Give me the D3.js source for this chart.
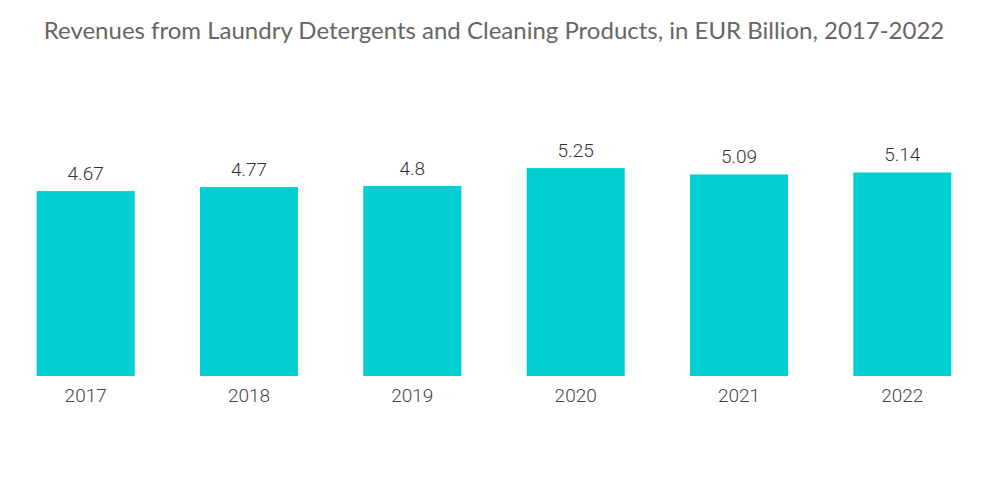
<!DOCTYPE html>
<html>
<head>
<meta charset="utf-8">
<script src="https://cdn.jsdelivr.net/npm/d3@7"></script>
<style>
  body { margin: 0; background: #fff; }
</style>
</head>
<body>
<svg id="chart"></svg>
<script>
const years = ['2017', '2018', '2019', '2020', '2021', '2022'];
const revenues = [4.67, 4.77, 4.8, 5.25, 5.09, 5.14];
const valueLabels = ['4.67', '4.77', '4.8', '5.25', '5.09', '5.14'];
const title = 'Revenues from Laundry Detergents and Cleaning Products, in EUR Billion, 2017-2022';

const width = 1000, height = 504;
const svg = d3.select('#chart').attr('width', width).attr('height', height);

const x = d3.scaleBand()
  .domain(years)
  .range([4, 984])
  .paddingInner(0.4)
  .paddingOuter(0.2);

const y = d3.scaleLinear()
  .domain([0, 6])
  .range([376, 138.4]);

svg.append('text')
  .attr('x', 494)
  .attr('y', 39)
  .attr('text-anchor', 'middle')
  .style('font-family', 'Lato, sans-serif')
  .style('font-size', '24px')
  .style('fill', '#666')
  .text(title);

svg.selectAll('rect.bar')
  .data(revenues)
  .enter()
  .append('rect')
  .attr('class', 'bar')
  .attr('x', (d, i) => x(years[i]))
  .attr('y', d => y(d))
  .attr('width', x.bandwidth())
  .attr('height', d => y(0) - y(d))
  .attr('fill', '#00ced1');

svg.selectAll('text.value')
  .data(revenues)
  .enter()
  .append('text')
  .attr('class', 'value')
  .attr('x', (d, i) => x(years[i]) + x.bandwidth() / 2)
  .attr('y', d => y(d) - 11)
  .attr('text-anchor', 'middle')
  .style('font-family', 'Roboto, sans-serif')
  .style('font-size', '19px')
  .style('font-weight', 300)
  .style('fill', '#333')
  .text((d, i) => valueLabels[i]);

const xAxis = d3.axisBottom(x).tickSize(0).tickPadding(13);
const gx = svg.append('g')
  .attr('transform', 'translate(0,376)')
  .call(xAxis);
gx.select('.domain').remove();
gx.selectAll('text')
  .style('font-family', 'Roboto, sans-serif')
  .style('font-size', '19px')
  .style('font-weight', 300)
  .style('fill', '#444');
</script>
</body>
</html>
